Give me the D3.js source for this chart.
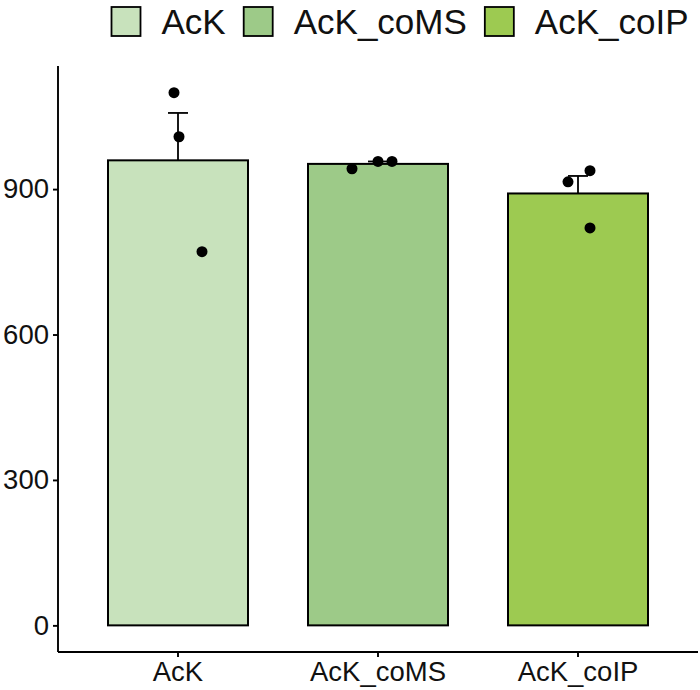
<!DOCTYPE html>
<html lang="en">
<head>
    <meta charset="UTF-8">
    <title>AcK bar chart</title>
    <script src="https://d3js.org/d3.v7.min.js"></script>
    <style>
        body{ margin: 0; background: white; }
        svg{ font-family: "Liberation Sans", Arial, sans-serif; }
    </style>
</head>
<body>
<svg width="700" height="690"></svg>
<script>

    // data
    let groups = ["AcK", "AcK_coMS", "AcK_coIP"]
    let colors = ["#c8e2bc", "#9dca88", "#9dca51"]
    let replicates = [
        [1099, 1008, 771],
        [942, 957, 957],
        [915, 938, 820]
    ]
    // horizontal jitter of each point, in category units
    let jitter = [
        [-0.02, 0.005, 0.12],
        [-0.13, 0.0, 0.07],
        [-0.05, 0.06, 0.06]
    ]
    let yTicks = [0, 300, 600, 900]

    let svg = d3.select('svg')
    let plot = {left: 58, right: 698, top: 66, bottom: 652}

    let summary = groups.map(function(g, i){
        let v = replicates[i]
        let m = d3.mean(v)
        let se = d3.deviation(v) / Math.sqrt(v.length)
        return {group: g, mean: m, se: se, color: colors[i]}
    })

    // ggplot style 5% expansion of the y range
    let yMax = d3.max(replicates.flat())
    let pad = yMax * 0.05
    let yScale = d3.scaleLinear()
        .domain([-pad, yMax + pad])
        .range([plot.bottom, plot.top])
    let xScale = d3.scaleBand()
        .domain(groups)
        .range([plot.left, plot.right])
        .paddingInner(0.3)
        .paddingOuter(0.25)
    let step = xScale.step()

    // error bars (drawn under the bars)
    let capW = 0.1 * step
    let eb = svg.append('g')
        .attr('stroke', 'black')
        .attr('stroke-width', 1.8)
    summary.forEach(function(d){
        let cx = xScale(d.group) + xScale.bandwidth() / 2
        eb.append('line')
            .attr('x1', cx).attr('x2', cx)
            .attr('y1', yScale(d.mean - d.se)).attr('y2', yScale(d.mean + d.se))
        eb.append('line')
            .attr('x1', cx - capW / 2).attr('x2', cx + capW / 2)
            .attr('y1', yScale(d.mean + d.se)).attr('y2', yScale(d.mean + d.se))
        eb.append('line')
            .attr('x1', cx - capW / 2).attr('x2', cx + capW / 2)
            .attr('y1', yScale(d.mean - d.se)).attr('y2', yScale(d.mean - d.se))
    })

    // bars
    svg.append('g')
        .selectAll('rect')
        .data(summary)
        .enter().append('rect')
        .attr('x', function(d){ return xScale(d.group) })
        .attr('width', xScale.bandwidth())
        .attr('y', function(d){ return yScale(d.mean) })
        .attr('height', function(d){ return yScale(0) - yScale(d.mean) })
        .attr('fill', function(d){ return d.color })
        .attr('stroke', 'black')
        .attr('stroke-width', 2)

    // replicate points
    let pts = []
    groups.forEach(function(g, i){
        replicates[i].forEach(function(v, j){
            pts.push({group: g, value: v, dx: jitter[i][j]})
        })
    })
    svg.append('g')
        .selectAll('circle')
        .data(pts)
        .enter().append('circle')
        .attr('cx', function(d){ return xScale(d.group) + xScale.bandwidth() / 2 + d.dx * step })
        .attr('cy', function(d){ return yScale(d.value) })
        .attr('r', 5.5)
        .attr('fill', 'black')

    // axes
    let yAxis = svg.append('g')
        .attr('transform', 'translate(' + plot.left + ',0)')
        .call(d3.axisLeft(yScale).tickValues(yTicks).tickSize(5).tickPadding(4))
    let xAxis = svg.append('g')
        .attr('transform', 'translate(0,' + plot.bottom + ')')
        .call(d3.axisBottom(xScale).tickSize(5).tickPadding(4))
    yAxis.select('.domain').attr('d', 'M0,' + plot.top + 'V' + plot.bottom)
    xAxis.select('.domain').attr('d', 'M' + plot.left + ',0H' + plot.right)
    svg.selectAll('.domain, .tick line')
        .attr('stroke', 'black')
        .attr('stroke-width', 1.9)
    svg.selectAll('.tick text')
        .attr('fill', '#111')
        .style('font-size', '27.5px')
        .style('font-family', '"Liberation Sans", Arial, sans-serif')

    // legend on top
    let legend = svg.append('g')
    let lx = 111.5
    let box = 29
    groups.forEach(function(g, i){
        legend.append('rect')
            .attr('x', lx).attr('y', 7)
            .attr('width', box).attr('height', box)
            .attr('fill', colors[i])
            .attr('stroke', 'black')
            .attr('stroke-width', 1.8)
        let t = legend.append('text')
            .attr('x', lx + box + 21)
            .attr('y', 33.5)
            .style('font-size', '35px')
            .attr('fill', '#111')
            .text(g)
        lx = lx + box + 21 + t.node().getComputedTextLength() + 18
    })

</script>
</body>
</html>
